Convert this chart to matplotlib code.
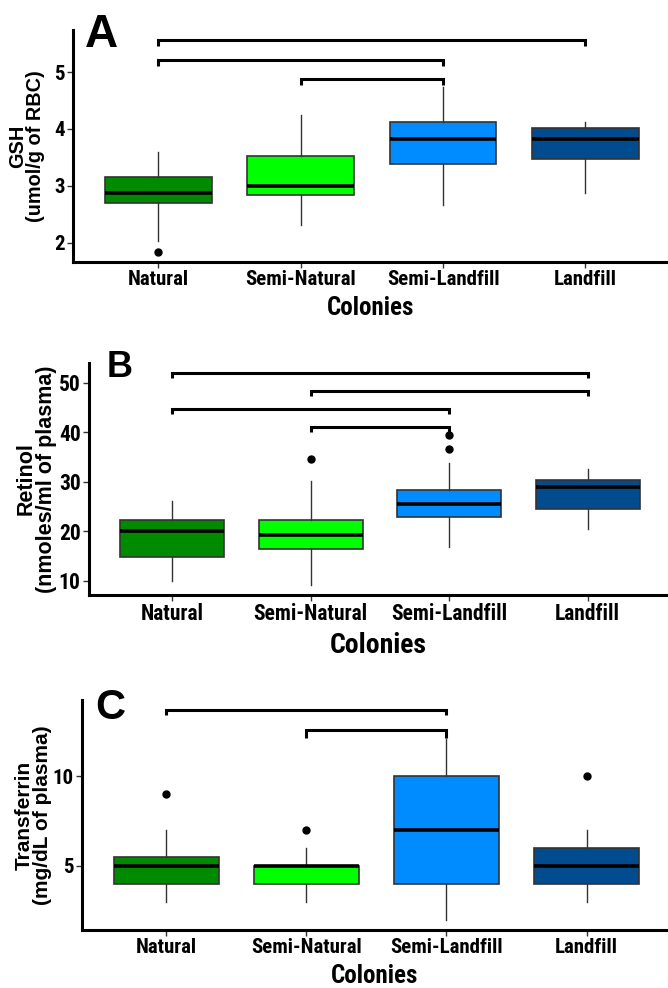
import matplotlib
matplotlib.use("Agg")
import matplotlib.pyplot as plt
from matplotlib import font_manager

# colonies and fills
colonies = ["Natural", "Semi-Natural", "Semi-Landfill", "Landfill"]
fills = ["#008A00", "#00FF00", "#008CFF", "#004C8F"]

# box stats: (whislo, q1, med, q3, whishi)
gsh_stats = [(2.03, 2.70, 2.88, 3.15, 3.59),
             (2.31, 2.83, 3.00, 3.53, 4.24),
             (2.66, 3.38, 3.83, 4.13, 4.73),
             (2.87, 3.47, 3.83, 4.01, 4.13)]
gsh_fliers = [[1.84], [], [], []]
gsh_brackets = [(1, 4, 5.56, 0.10), (1, 3, 5.21, 0.10), (2, 3, 4.87, 0.10)]

ret_stats = [(10.0, 14.7, 20.0, 22.3, 26.1),
             (9.2, 16.3, 19.2, 22.2, 30.2),
             (16.8, 22.8, 25.5, 28.3, 33.8),
             (20.5, 24.5, 28.9, 30.3, 32.6)]
ret_fliers = [[], [34.5], [36.7, 39.5], []]
ret_brackets = [(1, 4, 52.0, 1.0), (2, 4, 48.4, 1.0), (1, 3, 44.7, 1.0), (2, 3, 41.0, 1.0)]

tf_stats = [(3, 4, 5, 5.5, 7),
            (3, 4, 5, 5, 6),
            (2, 4, 7, 10, 12.06),
            (3, 4, 5, 6, 7)]
tf_fliers = [[9], [7], [], [10]]
tf_brackets = [(1, 3, 13.7, 0.3), (2, 3, 12.55, 0.4)]

# pick a narrow bold face for ticks
avail = {f.name for f in font_manager.fontManager.ttflist}
narrow = "DejaVu Sans"
for cand in ["Liberation Sans Narrow", "DejaVu Sans Condensed", "Roboto Condensed",
             "Open Sans Condensed", "Noto Sans Condensed"]:
    if cand in avail:
        narrow = cand
        break

fig = plt.figure(figsize=(6.68, 9.88), dpi=100)


def panel(rect, stats, fliers, brackets, ylim, yticks, ylabel, letter,
          ylab_size, tick_size, xlab_size, letter_pos, letter_size, ylab_x):
    ax = fig.add_axes(rect)
    bxp = []
    for s, fl in zip(stats, fliers):
        bxp.append(dict(whislo=s[0], q1=s[1], med=s[2], q3=s[3], whishi=s[4], fliers=fl))
    parts = ax.bxp(bxp, positions=[1, 2, 3, 4], widths=0.75, patch_artist=True,
                   showcaps=False,
                   boxprops=dict(edgecolor="#333333", linewidth=1.2),
                   medianprops=dict(color="black", linewidth=2.6),
                   whiskerprops=dict(color="#333333", linewidth=1.0),
                   flierprops=dict(marker="o", markerfacecolor="black",
                                   markeredgecolor="black", markersize=5))
    for b, c in zip(parts["boxes"], fills):
        b.set_facecolor(c)
    for (a, b, y, d) in brackets:
        ax.plot([a, a, b, b], [y - d, y, y, y - d], color="black", lw=2.2,
                solid_capstyle="butt", solid_joinstyle="miter", clip_on=False)
    ax.set_xlim(0.4, 4.58)
    ax.set_ylim(*ylim)
    ax.set_yticks(yticks)
    ax.set_xticks([1, 2, 3, 4])
    ax.set_xticklabels(colonies, fontsize=tick_size, fontweight="bold",
                       family=narrow, fontstretch="condensed")
    for t in ax.get_yticklabels():
        t.set_fontsize(tick_size)
        t.set_fontweight("bold")
        t.set_family(narrow)
        t.set_fontstretch("condensed")
    for side in ["top", "right"]:
        ax.spines[side].set_visible(False)
    for side in ["left", "bottom"]:
        ax.spines[side].set_linewidth(2.2)
    ax.tick_params(length=4, width=1, color="#333333", pad=2)
    ax.set_xlabel("Colonies", fontsize=xlab_size, fontweight="bold",
                  family=narrow, fontstretch="condensed", labelpad=5)
    ax.set_ylabel(ylabel, fontsize=ylab_size, fontweight="bold",
                  family="Liberation Sans", linespacing=0.95)
    ax.yaxis.set_label_coords(ylab_x, 0.5)
    ax.text(letter_pos[0], letter_pos[1], letter, transform=ax.transAxes,
            fontsize=letter_size, fontweight="bold", family="Liberation Sans",
            ha="left", va="top")
    return ax


panel([73 / 668, 1 - 262 / 988, 1 - 73 / 668, 232 / 988],
      gsh_stats, gsh_fliers, gsh_brackets, (1.66, 5.74), [2, 3, 4, 5],
      "GSH\n(umol/g of RBC)", "A", 14.3, 15, 18, (0.02, 1.073), 33, -0.047)

panel([89 / 668, 1 - 595 / 988, 1 - 89 / 668, 232 / 988],
      ret_stats, ret_fliers, ret_brackets, (7.1, 54.0), [10, 20, 30, 40, 50],
      "Retinol\n(nmoles/ml of plasma)", "B", 15.5, 15.5, 20, (0.031, 1.058), 26, -0.055)

panel([82 / 668, 1 - 930 / 988, 1 - 82 / 668, 230 / 988],
      tf_stats, tf_fliers, tf_brackets, (1.42, 14.25), [5, 10],
      "Transferrin\n(mg/dL of plasma)", "C", 15, 15, 18, (0.022, 1.052), 30, -0.052)

fig.savefig("out.png", dpi=100)
